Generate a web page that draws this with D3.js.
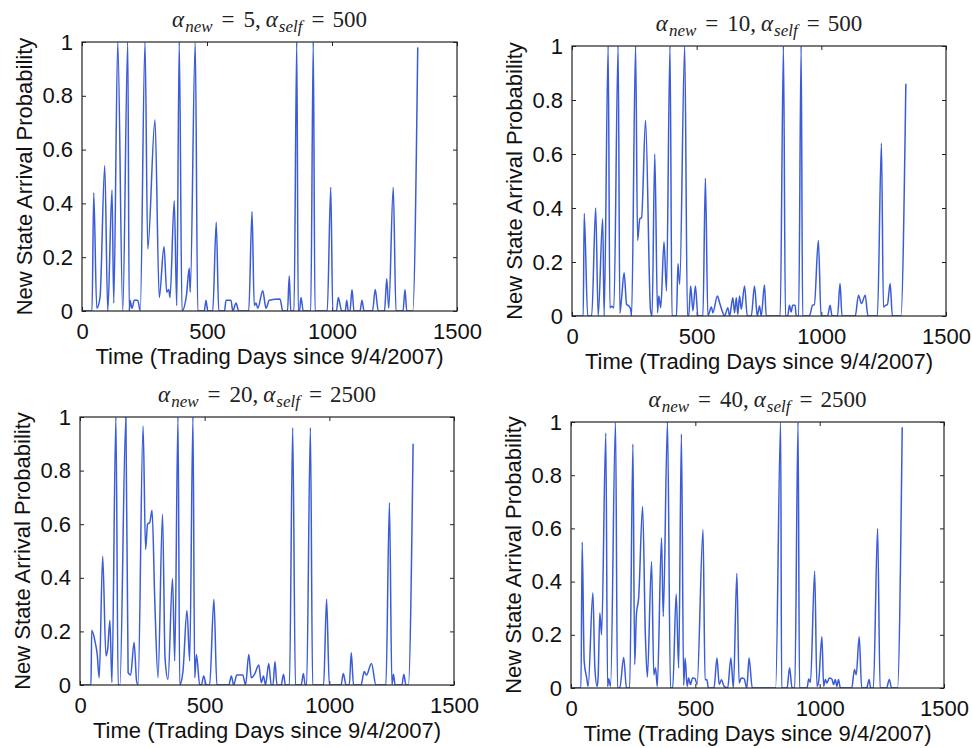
<!DOCTYPE html>
<html><head><meta charset="utf-8">
<script src="https://cdn.jsdelivr.net/npm/d3@7"></script>
<style>body{margin:0;background:#fff}</style>
</head><body>
<svg id="c" width="972" height="748"></svg>
<script>
// ---- data ----
const alphaNew = [5, 10, 20, 40];
const alphaSelf = [500, 500, 2500, 2500];
const xTicks = [0, 500, 1000, 1500];
const xTickLabels = ["0", "500", "1000", "1500"];
const yTicks = [0, 0.2, 0.4, 0.6, 0.8, 1];
const yTickLabels = ["0", "0.2", "0.4", "0.6", "0.8", "1"];
const xLabel = "Time (Trading Days since 9/4/2007)";
const yLabel = "New State Arrival Probability";

// [trading day, probability]
const seriesA = [[0,0],[40,0],[47,0.44],[59,0.01],[72,0.05],[91,0.54],[103,0],[120,0.45],[127,0.03],[143,1],[163,0],[183,1],[189,0],[192,0.04],[200,0.01],[209,0.04],[223,0.04],[233,0],[252,1],[263,0.23],[292,0.71],[309,0.05],[328,0.24],[339,0.07],[347,0.08],[352,0.05],[369,0.41],[379,0.02],[389,1],[400,0],[418,0.06],[429,0.16],[433,0.07],[453,1],[463,0],[489,0],[496,0.04],[503,0],[523,0],[537,0.33],[547,0],[570,0],[576,0.04],[596,0.04],[603,0],[616,0.03],[627,0],[667,0],[680,0.37],[689,0.02],[696,0.03],[703,0.01],[723,0.075],[736,0.01],[749,0.04],[792,0.045],[803,0],[822,0],[829,0.13],[835,0],[848,0],[859,1],[865,0],[870,0],[876,0.05],[885,0],[915,0],[925,1],[932,0],[981,0],[995,0.46],[1003,0],[1018,0],[1025,0.05],[1039,0],[1053,0],[1059,0.04],[1065,0],[1072,0],[1080,0.08],[1088,0],[1112,0],[1120,0.04],[1128,0],[1162,0],[1173,0.08],[1185,0],[1210,0],[1219,0.12],[1227,0.01],[1245,0.46],[1256,0],[1284,0],[1292,0.08],[1299,0],[1323,0],[1343,0.98]];

const seriesB = [[0,0],[45,0],[49,0.38],[63,0],[79,0],[95,0.40],[105,0],[123,0.36],[129,0],[145,1],[152,0.03],[159,0.036],[168,0.03],[185,1],[192,0.01],[199,0.068],[209,0.16],[219,0.043],[228,0.037],[235,0.025],[239,0],[255,1],[263,0.28],[272,0.36],[279,0.364],[295,0.725],[315,0.02],[321,0],[332,0.60],[343,0.012],[348,0.074],[356,0.031],[369,0.275],[379,0.093],[393,1],[401,0],[419,0],[425,0.194],[432,0.117],[452,1],[463,0],[468,0],[476,0.111],[485,0.019],[495,0.111],[505,0],[525,0],[535,0.51],[545,0],[559,0.033],[565,0.012],[583,0.074],[592,0.049],[605,0.012],[612,0],[625,0.031],[632,0],[645,0.068],[652,0.012],[659,0.068],[665,0.006],[672,0.074],[679,0.025],[692,0.111],[703,0],[719,0],[732,0.111],[743,0],[752,0.037],[759,0],[772,0.115],[779,0],[835,0],[848,1],[856,0],[865,0],[872,0.04],[879,0.015],[885,0.04],[895,0.04],[899,0],[909,0],[919,1],[925,0],[952,0],[965,0.04],[972,0.042],[988,0.28],[999,0],[1025,0],[1035,0.04],[1043,0],[1065,0],[1075,0.12],[1083,0],[1136,0],[1149,0.077],[1161,0.046],[1176,0.077],[1187,0],[1225,0],[1241,0.64],[1249,0.033],[1259,0.04],[1265,0.042],[1276,0.12],[1285,0],[1319,0],[1339,0.86]];

const seriesC = [[0,0],[44,0],[47,0.204],[60,0.164],[69,0.114],[77,0.027],[91,0.48],[104,0.109],[111,0.134],[120,0.241],[128,0.009],[144,1],[153,0],[160,0],[184,1],[193,0.046],[203,0.037],[217,0.159],[227,0.015],[233,0],[253,0.966],[263,0.506],[271,0.600],[280,0.607],[289,0.652],[300,0.313],[313,0.027],[331,0.637],[341,0.102],[353,0.021],[371,0.397],[380,0.09],[393,1],[400,0],[413,0.052],[429,0.278],[440,0.09],[453,1],[460,0.027],[467,0.114],[480,0.002],[487,0],[496,0.034],[507,0],[520,0],[537,0.32],[549,0],[597,0],[607,0.034],[616,0],[629,0.037],[653,0.037],[664,0],[677,0.114],[687,0.027],[700,0.04],[717,0.075],[727,0.009],[736,0.034],[744,0],[757,0.08],[767,0],[774,0],[782,0.088],[790,0],[807,0],[816,0.04],[824,0],[840,0],[853,0.96],[864,0],[887,0],[896,0.043],[903,0],[909,0],[924,0.96],[933,0],[977,0],[989,0.32],[1000,0],[1047,0],[1056,0.043],[1067,0],[1080,0],[1088,0.12],[1097,0],[1127,0],[1140,0.05],[1149,0.037],[1169,0.08],[1187,0],[1227,0],[1241,0.68],[1251,0],[1257,0.04],[1264,0],[1291,0],[1299,0.04],[1307,0],[1317,0],[1336,0.9]];

const seriesD = [[0,0],[40,0],[45,0.549],[53,0.10],[63,0.038],[69,0.006],[88,0.358],[96,0.075],[105,0.006],[109,0.038],[116,0.282],[123,0.20],[140,0.958],[147,0.006],[152,0.035],[159,0.006],[179,1],[187,0],[196,0],[212,0.115],[223,0],[236,0],[249,0.917],[256,0.088],[263,0.276],[272,0.338],[288,0.682],[299,0.201],[307,0.04],[324,0.476],[333,0.05],[340,0.075],[347,0.006],[364,0.564],[371,0.269],[388,1],[400,0],[409,0],[423,0.353],[433,0.075],[444,0.955],[453,0.01],[459,0.113],[467,0.006],[473,0.038],[480,0.013],[489,0.038],[499,0.035],[507,0.013],[531,0.595],[539,0.031],[547,0.031],[552,0],[575,0],[587,0.113],[596,0.013],[605,0.031],[616,0.006],[630,0],[643,0.113],[653,0],[667,0.431],[676,0.019],[685,0.038],[696,0.035],[707,0],[716,0.113],[729,0],[823,0],[843,1],[847,0],[869,0],[879,0.076],[889,0],[900,0],[913,1],[919,0],[949,0],[956,0.034],[963,0.021],[980,0.439],[989,0.006],[996,0.025],[1009,0.193],[1016,0.006],[1023,0.032],[1029,0.019],[1039,0.038],[1049,0.034],[1056,0.013],[1063,0.032],[1069,0.006],[1076,0.032],[1083,0],[1129,0],[1140,0.07],[1147,0.05],[1159,0.193],[1169,0],[1189,0],[1199,0.032],[1205,0],[1216,0],[1233,0.60],[1243,0],[1269,0],[1280,0.032],[1289,0],[1313,0],[1332,0.98]];

const allSeries = [seriesA, seriesB, seriesC, seriesD];

// ---- layout ----
const boxes = [
  {l: 82, r: 457, t: 42, b: 311},
  {l: 572, r: 946, t: 46, b: 316},
  {l: 80, r: 454, t: 417, b: 685},
  {l: 571, r: 944, t: 422, b: 688}
];
const lineColor = "#3b5cd8";
const sans = "'Liberation Sans', Arial, Helvetica, sans-serif";
const serif = "'Liberation Serif', 'Times New Roman', serif";

const svg = d3.select("#c");

boxes.forEach((bx, i) => {
  const x = d3.scaleLinear().domain([0, 1500]).range([bx.l, bx.r]);
  const y = d3.scaleLinear().domain([0, 1]).range([bx.b, bx.t]);
  const g = svg.append("g");

  const cid = "clip" + i;
  svg.append("clipPath").attr("id", cid).append("rect")
    .attr("x", bx.l).attr("y", bx.t).attr("width", bx.r - bx.l).attr("height", bx.b - bx.t);

  // axes with inward ticks
  const axB = g.append("g").attr("transform", `translate(0,${bx.b})`)
    .call(d3.axisBottom(x).tickValues(xTicks).tickFormat((d, k) => xTickLabels[k]).tickSize(-4).tickPadding(10));
  const axT = g.append("g").attr("transform", `translate(0,${bx.t})`)
    .call(d3.axisTop(x).tickValues(xTicks).tickFormat("").tickSize(-4));
  const axL = g.append("g").attr("transform", `translate(${bx.l},0)`)
    .call(d3.axisLeft(y).tickValues(yTicks).tickFormat((d, k) => yTickLabels[k]).tickSize(-4).tickPadding(9));
  const axR = g.append("g").attr("transform", `translate(${bx.r},0)`)
    .call(d3.axisRight(y).tickValues(yTicks).tickFormat("").tickSize(-4));
  [axB, axT, axL, axR].forEach(a => {
    a.select(".domain").remove();
    a.selectAll("line").attr("stroke", "#222").attr("stroke-width", 1);
    a.selectAll("text").attr("font-family", sans).attr("font-size", 22).attr("fill", "#111");
  });
  axB.selectAll("text").attr("dy", "0.8em");

  // data line
  const line = d3.line().x(d => x(d[0])).y(d => y(d[1])).curve(d3.curveMonotoneX);
  g.append("path").datum(allSeries[i])
    .attr("clip-path", `url(#${cid})`)
    .attr("d", line).attr("fill", "none")
    .attr("stroke", lineColor).attr("stroke-width", 1.5).attr("stroke-linejoin", "round");

  // box
  g.append("rect").attr("x", bx.l).attr("y", bx.t)
    .attr("width", bx.r - bx.l).attr("height", bx.b - bx.t)
    .attr("fill", "none").attr("stroke", "#222").attr("stroke-width", 1.2);

  // x label
  g.append("text").attr("x", (bx.l + bx.r) / 2).attr("y", bx.b + 53)
    .attr("text-anchor", "middle").attr("font-family", sans).attr("font-size", 22)
    .attr("fill", "#111").text(xLabel);

  // y label
  g.append("text")
    .attr("transform", `translate(${bx.l - 50},${(bx.t + bx.b) / 2}) rotate(-90)`)
    .attr("text-anchor", "middle").attr("font-family", sans).attr("font-size", 22)
    .attr("fill", "#111").text(yLabel);

  // title (math style)
  const tt = g.append("text").attr("x", (bx.l + bx.r) / 2).attr("y", bx.t - 15)
    .attr("text-anchor", "middle").attr("font-family", serif).attr("font-size", 23).attr("fill", "#222");
  tt.append("tspan").attr("font-style", "italic").text("α");
  tt.append("tspan").attr("font-style", "italic").attr("font-size", 17).attr("dx", 1).attr("dy", 5).text("new");
  tt.append("tspan").attr("dx", 9).attr("dy", -5).text("=");
  tt.append("tspan").attr("dx", 9).text(alphaNew[i] + ",");
  tt.append("tspan").attr("dx", 5).attr("font-style", "italic").text("α");
  tt.append("tspan").attr("font-style", "italic").attr("font-size", 17).attr("dx", 1).attr("dy", 5).text("self");
  tt.append("tspan").attr("dx", 9).attr("dy", -5).text("=");
  tt.append("tspan").attr("dx", 8).text(alphaSelf[i]);
});
</script>
</body></html>
